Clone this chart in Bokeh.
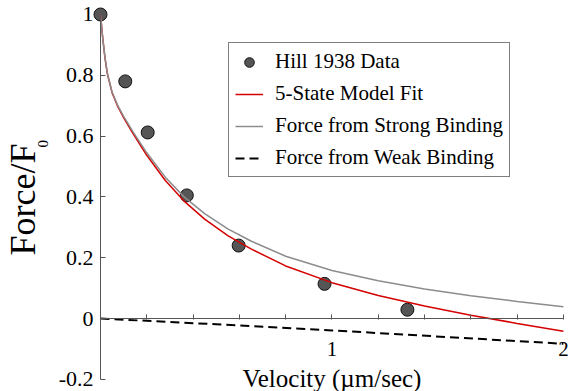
from math import pi
from bokeh.plotting import figure
from bokeh.models import Range1d, FixedTicker, Label, Legend, LegendItem
from bokeh.embed import file_html
from bokeh.resources import INLINE

# ---------------- data ----------------
hill_v = [0.0, 0.107, 0.204, 0.373, 0.597, 0.968, 1.326]
hill_f = [1.0, 0.780, 0.612, 0.405, 0.240, 0.114, 0.029]

curve_v = [0.0, 0.01, 0.02, 0.03, 0.05, 0.075, 0.10, 0.14, 0.20, 0.28, 0.36,
           0.45, 0.55, 0.65, 0.80, 1.00, 1.20, 1.40, 1.60, 1.80, 2.00]
strong_f = [1.0, 0.920, 0.855, 0.805, 0.745, 0.700, 0.665, 0.615, 0.545, 0.465, 0.401,
            0.345, 0.295, 0.255, 0.205, 0.158, 0.124, 0.097, 0.075, 0.056, 0.039]
model_f = [1.0, 0.920, 0.854, 0.804, 0.743, 0.697, 0.661, 0.609, 0.537, 0.454, 0.387,
           0.327, 0.273, 0.229, 0.173, 0.118, 0.076, 0.041, 0.011, -0.016, -0.042]

weak_v = [0.0, 0.5, 1.0, 1.5, 2.0]
weak_f = [0.0, -0.019, -0.039, -0.061, -0.083]

x_ticks = [0.2, 0.4, 0.6, 0.8, 1.0, 1.2, 1.4, 1.6, 1.8, 2.0]
x_tick_labels = ["", "", "", "", "1", "", "", "", "", "2"]
y_ticks = [-0.2, 0.0, 0.2, 0.4, 0.6, 0.8, 1.0]
y_tick_labels = ["-0.2", "0", "0.2", "0.4", "0.6", "0.8", "1"]

series_names = ["Hill 1938 Data", "5-State Model Fit",
                "Force from Strong Binding", "Force from Weak Binding"]
x_title = "Velocity (\u00b5m/sec)"
y_title = "Force/F"
y_title_sub = "0"

# ---------------- figure ----------------
FONT = "Liberation Serif"
AXIS_COLOR = "#555555"

p = figure(width=571, height=391,
           x_range=Range1d(-0.432, 2.035), y_range=Range1d(-0.240, 1.046),
           output_backend="svg", toolbar_location=None, min_border=0)
p.outline_line_color = None
p.grid.visible = False
p.background_fill_color = "white"
p.border_fill_color = "white"

r_hill = p.scatter(hill_v, hill_f, marker="circle", size=13,
                   fill_color="#555555", line_color="#111111", line_width=1)
r_model = p.line(curve_v, model_f, line_color="#d40000", line_width=1.5)
r_strong = p.line(curve_v, strong_f, line_color="#8c8c8c", line_width=1.5)
r_weak = p.line(weak_v, weak_f, line_color="black", line_width=2, line_dash="9 5")

# x axis, crossing at y = 0
xa = p.xaxis[0]
xa.fixed_location = 0
xa.bounds = (0, 2)
xa.ticker = FixedTicker(ticks=x_ticks)
xa.major_label_overrides = {t: s for t, s in zip(x_ticks, x_tick_labels)}
xa.minor_tick_line_color = None
xa.major_tick_in = 4
xa.major_tick_out = 1
xa.axis_line_color = AXIS_COLOR
xa.major_tick_line_color = AXIS_COLOR
xa.major_label_standoff = 22
xa.major_label_text_font = FONT
xa.major_label_text_font_size = "21px"
xa.major_label_text_color = "black"

# y axis, crossing at x = 0
ya = p.yaxis[0]
ya.fixed_location = 0
ya.bounds = (-0.2, 1)
ya.ticker = FixedTicker(ticks=y_ticks)
ya.major_label_overrides = {t: s for t, s in zip(y_ticks, y_tick_labels)}
ya.minor_tick_line_color = None
ya.major_tick_in = 5
ya.major_tick_out = 0
ya.axis_line_color = AXIS_COLOR
ya.major_tick_line_color = AXIS_COLOR
ya.major_label_standoff = 7
ya.major_label_text_font = FONT
ya.major_label_text_font_size = "22px"
ya.major_label_text_color = "black"

# axis titles
p.add_layout(Label(x=1.0, y=-0.1957, text=x_title, text_align="center",
                   text_baseline="alphabetic", text_font=FONT,
                   text_font_size="25px", text_color="black"))
p.add_layout(Label(x=-0.335, y=0.2072, text=y_title, angle=pi / 2,
                   text_align="left", text_baseline="alphabetic", text_font=FONT,
                   text_font_size="36px", text_color="black"))
p.add_layout(Label(x=-0.248, y=0.5625, text=y_title_sub, angle=pi / 2,
                   text_align="left", text_baseline="alphabetic", text_font=FONT,
                   text_font_size="15px", text_color="black"))

# legend
legend = Legend(items=[LegendItem(label=series_names[0], renderers=[r_hill]),
                       LegendItem(label=series_names[1], renderers=[r_model]),
                       LegendItem(label=series_names[2], renderers=[r_strong]),
                       LegendItem(label=series_names[3], renderers=[r_weak])],
                location=(228, 214))
legend.label_text_font = FONT
legend.label_text_font_size = "21px"
legend.label_text_color = "black"
legend.glyph_width = 28
legend.glyph_height = 24
legend.label_height = 24
legend.label_standoff = 12
legend.spacing = 7
legend.padding = 6
legend.margin = 0
legend.border_line_color = "black"
legend.border_line_width = 1
legend.background_fill_color = "white"
legend.background_fill_alpha = 1.0
p.add_layout(legend)

open("out.html", "w").write(file_html(p, INLINE))
